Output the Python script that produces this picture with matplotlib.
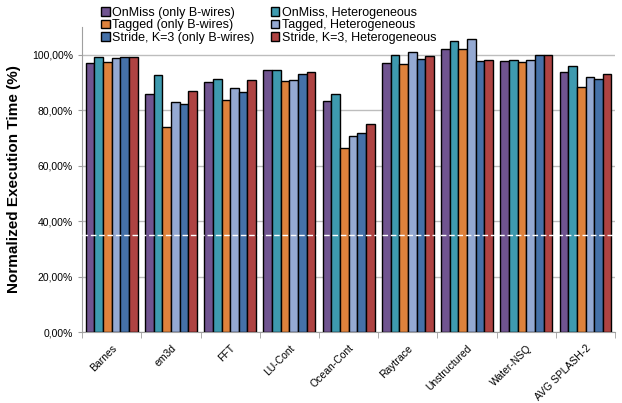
import numpy as np
import matplotlib.pyplot as plt
from matplotlib.ticker import FuncFormatter

plt.rcParams['font.family'] = ['Liberation Sans', 'DejaVu Sans']

benchmarks = ['Barnes', 'em3d', 'FFT', 'LU-Cont', 'Ocean-Cont', 'Raytrace',
              'Unstructured', 'Water-NSQ', 'AVG SPLASH-2']

series_names = ['OnMiss (only B-wires)', 'OnMiss, Heterogeneous',
                'Tagged (only B-wires)', 'Tagged, Heterogeneous',
                'Stride, K=3 (only B-wires)', 'Stride, K=3, Heterogeneous']

onmiss_b = [97.2, 86.0, 90.3, 94.4, 83.3, 97.2, 102.1, 97.8, 93.6]
onmiss_het = [99.3, 92.7, 91.3, 94.6, 86.0, 100.0, 105.0, 98.1, 95.8]
tagged_b = [97.5, 73.8, 83.5, 90.4, 66.4, 96.7, 101.9, 97.5, 88.5]
tagged_het = [98.8, 82.9, 88.1, 90.9, 70.6, 101.1, 105.5, 98.2, 92.1]
stride_b = [99.3, 82.1, 86.6, 93.2, 71.7, 98.5, 97.9, 100.0, 91.1]
stride_het = [99.2, 87.0, 90.8, 93.6, 74.9, 99.6, 98.0, 100.0, 92.9]

colors = ['#705490', '#3E9AAF', '#DE823C', '#94A9D2', '#4571A8', '#AE4342']

series = [onmiss_b, onmiss_het, tagged_b, tagged_het, stride_b, stride_het]

fig = plt.figure(figsize=(6.22, 4.03), dpi=100)
ax = fig.add_axes([0.132, 0.176, 0.857, 0.757])

x = np.arange(len(benchmarks))
w = 0.146
handles = []
for i, (vals, c) in enumerate(zip(series, colors)):
    off = (i - 2.5) * w
    b = ax.bar(x + off, vals, w, color=c, edgecolor='black', linewidth=1.0, zorder=3)
    handles.append(b)

# white dashed line across the bars
ax.axhline(35, color='white', linestyle=(0, (4, 2)), linewidth=1.0, zorder=4)

ax.set_xlim(-0.5, len(benchmarks) - 0.5)
ax.set_ylim(0, 110)
ax.set_yticks([0, 20, 40, 60, 80, 100])
ax.yaxis.set_major_formatter(FuncFormatter(lambda v, p: ('%.2f%%' % v).replace('.', ',')))
ax.grid(axis='y', color='#BDBDBD', linewidth=1.0, zorder=0)
ax.set_axisbelow(True)

ax.set_xticks(x)
ax.set_xticklabels(benchmarks, rotation=45, ha='right', rotation_mode='anchor', fontsize=7.5)
ax.set_xticks(np.arange(-0.5, len(benchmarks)), minor=True)
ax.tick_params(axis='x', which='major', length=0, pad=8)
ax.tick_params(axis='x', which='minor', length=4, color='#A0A0A0')
ax.tick_params(axis='y', length=3, color='#A0A0A0', labelsize=7.5)

for s in ['top', 'right']:
    ax.spines[s].set_visible(False)
for s in ['left', 'bottom']:
    ax.spines[s].set_color('#A0A0A0')

ax.set_ylabel('Normalized Execution Time (%)', fontsize=11, fontweight='bold', labelpad=8)

# legend is ordered row-wise in two columns
order = [0, 2, 4, 1, 3, 5]
fig.legend([handles[i] for i in order], [series_names[i] for i in order],
           loc='upper left', bbox_to_anchor=(0.148, 1.005), ncol=2, frameon=False,
           fontsize=9, handlelength=0.7, handleheight=0.7, handletextpad=0.2,
           columnspacing=1.3, labelspacing=0.05, borderpad=0.2)

fig.savefig('out.png', dpi=100)
